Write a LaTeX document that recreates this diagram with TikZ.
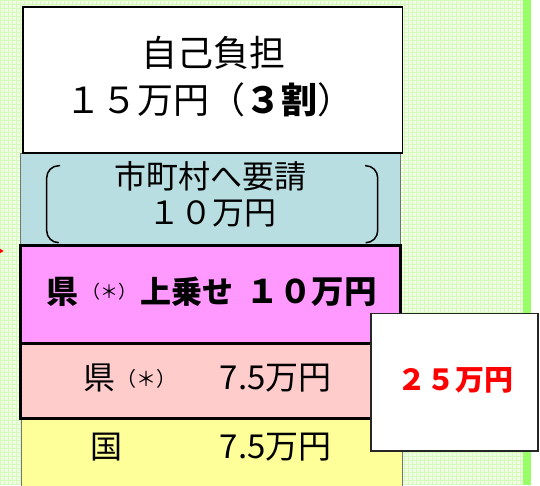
\documentclass[tikz,border=0pt]{standalone}
\usepackage{fontspec}
\newfontfamily\jp{Noto Sans CJK JP}
\definecolor{bggreen}{RGB}{240,254,230}
\definecolor{gridgreen}{RGB}{214,250,186}
\definecolor{bargreen}{RGB}{153,255,102}
\definecolor{cyanbox}{RGB}{184,222,225}
\definecolor{pinkbox}{RGB}{255,153,255}
\definecolor{lpinkbox}{RGB}{255,204,204}
\definecolor{yellowbox}{RGB}{255,255,153}
\definecolor{redtxt}{RGB}{255,0,0}
\tikzset{
  txt/.style={inner sep=0pt, outer sep=0pt, font=\jp\fontsize{#1}{#1}\selectfont},
  btxt/.style={inner sep=0pt, outer sep=0pt, font=\jp\bfseries\fontsize{#1}{#1}\selectfont},
  thinbox/.style={draw=black!55, line width=0.8pt},
  thickbox/.style={draw=black, line width=3pt},
}
\begin{document}
\begin{tikzpicture}[x=1pt,y=-1pt]
\clip (0,0) rectangle (540,485);
% background
\fill[bggreen] (0,0) rectangle (540,485);
\draw[gridgreen, line width=1pt] (0,0) grid[step=4pt] (523,485);
\fill[white] (531,0) rectangle (540,485);
\fill[bargreen] (523,0) rectangle (531,485);
% boxes
\filldraw[fill=yellowbox, thinbox] (21,418) rectangle (402.5,495);
\filldraw[fill=cyanbox, thinbox] (20.7,153) rectangle (400.4,245);
\filldraw[fill=white, draw=black, line width=1.5pt] (23,7) rectangle (402.5,153);
\filldraw[fill=lpinkbox, thickbox] (20,343.3) rectangle (400,418.3);
\filldraw[fill=pinkbox, thickbox] (20,245) rectangle (400,343.3);
\filldraw[fill=white, draw=black!85, line width=1.5pt] (371,313.5) rectangle (538,451);
% bracket pair
\draw[line width=1.5pt, rounded corners=12pt] (60,165.7) -- (46.7,165.7) -- (46.7,242.7) -- (58,242.7);
\draw[line width=1.5pt, rounded corners=12pt] (365,165.7) -- (377.7,165.7) -- (377.7,242.7) -- (367,242.7);
% small red arrow tip at left edge
\fill[redtxt] (0,248.8) -- (3.6,251) -- (0,253.2) -- cycle;
% texts
\node[txt=36] (t1) at (213.5,53) {自己負担};
\node[txt=36] (t2) at (209,100) {１５万円（{\bfseries ３割}）};
\node[txt=32] (c1) at (210.5,176.7) {市町村へ要請};
\node[txt=32] (c2) at (212.7,213.3) {１０万円};
\node[btxt=32] (p1) at (62,291.7) {県};
\node[txt=18] (p2) at (109.3,292) {（＊）};
\node[btxt=31] (p3) at (187,291.7) {上乗せ};
\node[btxt=32.5] (p4) at (311.7,291.7) {１０万円};
\node[txt=32] (l1) at (99,378.3) {県};
\node[txt=20] (l2) at (146.5,379) {（＊）};
\node[txt=33] (l3) at (275.7,378.3) {7.5万円};
\node[txt=32] (y1) at (106,446.7) {国};
\node[txt=33] (y2) at (275.7,446.7) {7.5万円};
\node[btxt=29, text=redtxt] (r1) at (455.7,380) {２５万円};
\end{tikzpicture}
\end{document}
